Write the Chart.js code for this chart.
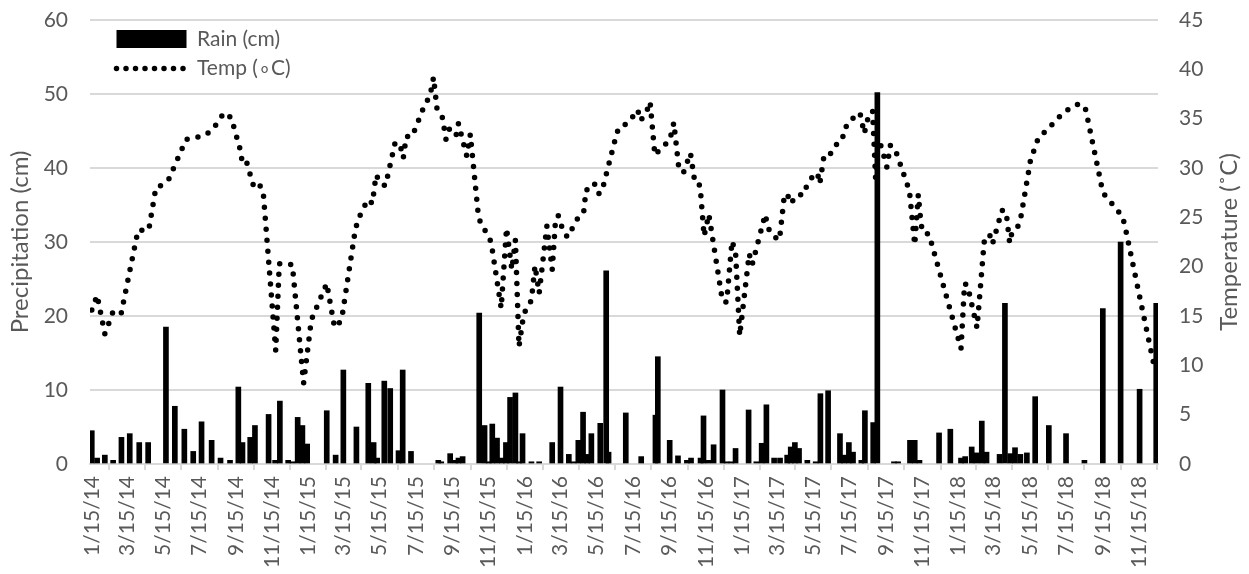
<!DOCTYPE html>
<html>
<head>
<meta charset="utf-8">
<script src="https://cdn.jsdelivr.net/npm/chart.js@4.4.0/dist/chart.umd.min.js"></script>
<style>
  html, body { margin: 0; padding: 0; background: #fff; }
</style>
</head>
<body>
<canvas id="chart" width="1249" height="574"></canvas>
<script>
// x values are days after 1/15/14
const tickLabels = ['1/15/14', '3/15/14', '5/15/14', '7/15/14', '9/15/14', '11/15/14',
  '1/15/15', '3/15/15', '5/15/15', '7/15/15', '9/15/15', '11/15/15',
  '1/15/16', '3/15/16', '5/15/16', '7/15/16', '9/15/16', '11/15/16',
  '1/15/17', '3/15/17', '5/15/17', '7/15/17', '9/15/17', '11/15/17',
  '1/15/18', '3/15/18', '5/15/18', '7/15/18', '9/15/18', '11/15/18'];

const rainDays = [0, 9, 22, 36, 50, 64, 80, 95, 125, 140,
  156, 171, 185, 202, 217, 233, 247, 254, 267, 275,
  298, 309, 317, 331, 338, 347, 355, 363, 396, 411,
  424, 446, 466, 475, 481, 493, 503, 517, 524, 538,
  584, 589, 604, 613, 618, 625, 653, 662, 669, 675,
  683, 691, 698, 705, 714, 720, 726, 741, 754, 776,
  790, 804, 812, 820, 828, 835, 842, 857, 867, 871,
  900, 926, 950, 954, 974, 988, 1003, 1010, 1026, 1031,
  1039, 1048, 1063, 1070, 1078, 1085, 1107, 1120, 1129, 1137,
  1150, 1160, 1172, 1178, 1185, 1192, 1206, 1220, 1228, 1241,
  1261, 1268, 1276, 1283, 1297, 1303, 1317, 1324, 1352, 1359,
  1379, 1387, 1395, 1428, 1447, 1465, 1472, 1483, 1491, 1500,
  1508, 1530, 1539, 1548, 1556, 1565, 1576, 1590, 1613, 1642,
  1673, 1704, 1734, 1766, 1794];

const rainCm = [4.5, 0.8, 1.2, 0.5, 3.6, 4.1, 2.9, 2.9, 18.5, 7.8,
  4.7, 1.7, 5.7, 3.2, 0.8, 0.5, 10.4, 2.9, 3.6, 5.2,
  6.7, 0.5, 8.5, 0.5, 0.3, 6.3, 5.2, 2.7, 7.2, 1.2,
  12.7, 5.0, 10.9, 2.9, 0.8, 11.2, 10.2, 1.8, 12.7, 1.7,
  0.5, 0.3, 1.4, 0.5, 0.8, 1.0, 20.4, 5.2, 0.3, 5.4,
  3.5, 0.8, 2.9, 9.0, 9.6, 0.3, 4.1, 0.3, 0.3, 2.9,
  10.4, 1.3, 0.3, 3.2, 7.0, 1.3, 4.1, 5.5, 26.1, 1.6,
  6.9, 1.0, 6.6, 14.5, 3.2, 1.1, 0.5, 0.8, 0.8, 6.5,
  0.5, 2.6, 10.0, 0.3, 0.3, 2.1, 7.3, 0.3, 2.8, 8.0,
  0.8, 0.8, 1.2, 2.3, 2.9, 2.1, 0.5, 0.3, 9.5, 9.9,
  4.1, 1.2, 2.9, 1.6, 0.5, 7.2, 5.6, 50.2, 0.3, 0.3,
  3.2, 3.2, 0.5, 4.2, 4.7, 0.8, 1.0, 2.3, 1.5, 5.8,
  1.6, 1.3, 21.7, 1.4, 2.2, 1.3, 1.5, 9.1, 5.2, 4.1,
  0.5, 21.0, 30.0, 10.1, 21.7];

const tempDays = [0, 9, 22, 29, 35, 49, 78, 96, 108, 119,
  130, 159, 177, 193, 205, 223, 235, 250, 253, 259,
  273, 282, 289, 310, 316, 338, 357, 370, 396, 409,
  415, 422, 444, 449, 465, 473, 479, 488, 495, 511,
  519, 525, 530, 540, 561, 570, 576, 582, 591, 597,
  603, 614, 618, 626, 632, 638, 652, 673, 690, 699,
  708, 714, 720, 728, 741, 747, 754, 767, 776, 781,
  786, 795, 802, 819, 829, 833, 843, 848, 855, 860,
  883, 888, 902, 913, 920, 925, 935, 941, 949, 961,
  974, 981, 989, 997, 1009, 1016, 1023, 1026, 1032, 1040,
  1063, 1070, 1079, 1085, 1092, 1108, 1113, 1135, 1140, 1148,
  1159, 1167, 1172, 1178, 1189, 1200, 1206, 1217, 1223, 1227,
  1234, 1243, 1251, 1265, 1268, 1279, 1287, 1295, 1302, 1308,
  1316, 1321, 1326, 1331, 1340, 1346, 1354, 1378, 1387, 1393,
  1397, 1400, 1411, 1465, 1471, 1476, 1492, 1504, 1513, 1518,
  1534, 1541, 1547, 1551, 1561, 1565, 1583, 1589, 1595, 1607,
  1620, 1634, 1647, 1663, 1674, 1678, 1697, 1704, 1715, 1728,
  1738, 1742, 1791];

const tempC = [15.6, 17.1, 13.2, 14.3, 15.3, 15.1, 23.7, 23.7, 28.0, 28.3,
  28.9, 32.9, 33.1, 33.4, 34.0, 35.6, 35.1, 31.9, 30.8, 31.0,
  28.1, 28.4, 27.5, 11.5, 20.3, 20.2, 8.2, 14.6, 18.3, 13.9,
  14.0, 15.0, 23.7, 24.8, 26.8, 26.4, 29.3, 28.4, 28.2, 32.5,
  32.5, 31.0, 33.2, 33.2, 36.4, 37.3, 39.2, 35.9, 35.1, 32.9,
  34.0, 33.3, 34.5, 32.6, 31.2, 33.4, 24.9, 22.5, 15.8, 23.9,
  19.7, 22.7, 11.9, 15.2, 16.6, 20.1, 17.3, 24.1, 19.7, 24.2,
  25.2, 23.5, 23.0, 24.9, 25.5, 27.8, 27.8, 28.4, 27.4, 27.7,
  33.1, 34.1, 34.5, 35.3, 35.9, 34.8, 35.7, 36.7, 31.3, 32.1,
  32.8, 34.6, 30.2, 29.5, 31.5, 28.7, 28.6, 27.6, 23.1, 25.3,
  16.5, 16.4, 22.6, 21.5, 13.0, 21.3, 20.2, 25.3, 23.9, 23.1,
  22.7, 27.1, 27.4, 26.4, 27.3, 27.3, 28.4, 29.3, 29.5, 28.4,
  31.2, 31.2, 32.2, 32.8, 34.0, 34.6, 35.5, 35.5, 33.5, 35.0,
  35.8, 29.0, 32.8, 32.1, 30.1, 32.3, 31.9, 27.7, 22.2, 27.3,
  24.7, 23.5, 23.3, 11.7, 18.3, 18.1, 13.8, 22.5, 23.3, 22.3,
  25.7, 25.6, 22.4, 23.5, 24.1, 24.7, 31.1, 31.9, 33.0, 33.7,
  34.5, 35.4, 36.0, 36.5, 36.2, 35.1, 29.6, 27.5, 26.7, 25.8,
  24.9, 23.9, 9.8];

const leftTitle = 'Precipitation (cm)';
const rightTitleText = 'Temperature (˚C)';

const GRID = '#d9d9d9';
const TEXT = '#595959';
const FONT = 'Lato, "Open Sans", sans-serif';

// tick positions from the label dates
const start = Date.UTC(2014, 0, 15);
const tickDays = tickLabels.map(s => {
  const [m, d, y] = s.split('/').map(Number);
  return (Date.UTC(2000 + y, m - 1, d) - start) / 86400000;
});

Chart.defaults.font.family = FONT;
Chart.defaults.color = TEXT;

// put the legend in the top-left corner of the plot
const legendPlacer = {
  id: 'legendPlacer',
  afterLayout(chart) {
    const lg = chart.legend, ca = chart.chartArea;
    if (!lg) return;
    lg.left = ca.left + 18;
    lg.right = ca.right;
    lg.top = ca.top;
    lg.bottom = ca.bottom;
  }
};

// right axis title reads bottom-to-top like the left one
const rightTitle = {
  id: 'rightTitle',
  afterDraw(chart) {
    const { ctx, chartArea: ca } = chart;
    ctx.save();
    ctx.translate(chart.width - 20, (ca.top + ca.bottom) / 2);
    ctx.rotate(-Math.PI / 2);
    ctx.font = '24px ' + FONT;
    ctx.fillStyle = TEXT;
    ctx.textAlign = 'center';
    ctx.textBaseline = 'middle';
    ctx.fillText(rightTitleText, 0, 0);
    ctx.restore();
  }
};

// fixed axis sizes; tick padding must not push the plot down
const fixWidth = w => s => { s.width = w; s.paddingTop = 0; s.paddingBottom = 0; };

const ctx = document.getElementById('chart').getContext('2d');
new Chart(ctx, {
  type: 'bar',
  data: {
    datasets: [
      {
        type: 'bar',
        label: 'Rain (cm)',
        data: rainDays.map((d, i) => ({ x: d, y: rainCm[i] })),
        backgroundColor: '#000',
        barThickness: 5,
        yAxisID: 'y'
      },
      {
        type: 'line',
        label: 'Temp (∘C)',
        data: tempDays.map((d, i) => ({ x: d, y: tempC[i] })),
        borderColor: '#000',
        borderWidth: 5.5,
        borderDash: [0, 11],
        borderCapStyle: 'round',
        pointRadius: 0,
        tension: 0,
        fill: false,
        yAxisID: 'y1'
      }
    ]
  },
  options: {
    responsive: false,
    animation: false,
    layout: { padding: { top: 20, left: 0, right: 0, bottom: 0 } },
    plugins: {
      tooltip: { enabled: false },
      legend: {
        position: 'chartArea',
        align: 'start',
        fullSize: false,
        labels: {
          usePointStyle: true,
          pointStyleWidth: 70,
          boxHeight: 18,
          padding: 8.5,
          color: TEXT,
          font: { size: 21 },
          generateLabels: chart => chart.data.datasets.map((ds, i) => i === 0 ? {
            text: ds.label, datasetIndex: i, pointStyle: 'rect',
            fillStyle: '#000', strokeStyle: '#000', lineWidth: 0, fontColor: TEXT
          } : {
            text: ds.label, datasetIndex: i, pointStyle: 'line',
            fillStyle: 'rgba(0,0,0,0)', strokeStyle: '#000', lineWidth: 5.5,
            lineDash: [0, 9.5], lineCap: 'round', fontColor: TEXT
          })
        }
      }
    },
    scales: {
      x: {
        type: 'linear',
        min: -3,
        max: 1797,
        offset: false,
        grid: { display: true, drawOnChartArea: false, drawTicks: true, tickLength: 6, color: GRID, lineWidth: 2 },
        border: { color: GRID, width: 2 },
        ticks: {
          autoSkip: false, minRotation: 90, maxRotation: 90, padding: 6,
          font: { size: 21 },
          callback: (v, i) => tickLabels[i]
        },
        afterBuildTicks: s => { s.ticks = tickDays.map(v => ({ value: v })); },
        afterFit: s => { s.height = 110; }
      },
      y: {
        position: 'left',
        min: 0,
        max: 60,
        ticks: { stepSize: 10, padding: 22, font: { size: 21 } },
        grid: { color: GRID, lineWidth: 2, drawTicks: false },
        border: { display: false },
        title: { display: true, text: leftTitle, color: TEXT, font: { size: 24 }, padding: { top: 6 } },
        afterFit: fixWidth(90)
      },
      y1: {
        position: 'right',
        min: 0,
        max: 45,
        ticks: { stepSize: 5, padding: 21, font: { size: 21 } },
        grid: { drawOnChartArea: false, drawTicks: false },
        border: { display: false },
        afterFit: fixWidth(91)
      }
    }
  },
  plugins: [legendPlacer, rightTitle]
});
</script>
</body>
</html>
